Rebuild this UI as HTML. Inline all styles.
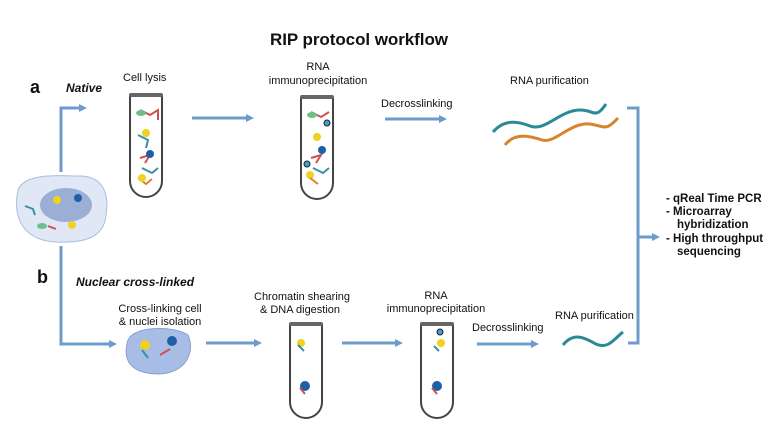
<!DOCTYPE html>
<html><head><meta charset="utf-8"><style>
html,body{margin:0;padding:0;background:#fff;}
svg{display:block;font-family:"Liberation Sans",Arial,sans-serif;}
</style></head><body>
<svg width="783" height="425" viewBox="0 0 783 425" xmlns="http://www.w3.org/2000/svg">
<defs>
<marker id="ah" markerWidth="8" markerHeight="8" refX="5" refY="4" orient="auto" markerUnits="userSpaceOnUse"><path d="M0,0 L8,4 L0,8 Z" fill="#6d9bcb"/></marker>
<g id="tube"><path d="M0,0 L0,86 A16,16 0 0 0 32,86 L32,0" fill="#fff" stroke="#444" stroke-width="2"/><rect x="-1" y="-2" width="34" height="4" rx="2" fill="#666"/></g>
<g id="tube2"><path d="M0,0 L0,78 A16,16 0 0 0 32,78 L32,0" fill="#fff" stroke="#444" stroke-width="2"/><rect x="-1" y="-2" width="34" height="4" rx="2" fill="#666"/></g>
</defs>
<text x="270" y="45" font-size="17" font-weight="bold" textLength="178" fill="#111">RIP protocol workflow</text>
<text x="30" y="93" font-size="18" font-weight="bold" fill="#111">a</text>
<text x="66" y="92" font-size="12" font-weight="bold" font-style="italic" fill="#111">Native</text>
<text x="123" y="81" font-size="11" fill="#111">Cell lysis</text>
<text x="318" y="70" font-size="11" fill="#111" text-anchor="middle">RNA</text>
<text x="318" y="84" font-size="11" fill="#111" text-anchor="middle">immunoprecipitation</text>
<text x="381" y="107" font-size="11" fill="#111">Decrosslinking</text>
<text x="510" y="84" font-size="11" fill="#111">RNA purification</text>
<text x="37" y="283" font-size="18" font-weight="bold" fill="#111">b</text>
<text x="76" y="286" font-size="12" font-weight="bold" font-style="italic" fill="#111">Nuclear cross-linked</text>
<text x="160" y="312" font-size="11" fill="#111" text-anchor="middle">Cross-linking cell</text>
<text x="160" y="325" font-size="11" fill="#111" text-anchor="middle">&amp; nuclei isolation</text>
<text x="302" y="300" font-size="11" fill="#111" text-anchor="middle">Chromatin shearing</text>
<text x="300" y="313" font-size="11" fill="#111" text-anchor="middle">&amp; DNA digestion</text>
<text x="436" y="299" font-size="11" fill="#111" text-anchor="middle">RNA</text>
<text x="436" y="312" font-size="11" fill="#111" text-anchor="middle">immunoprecipitation</text>
<text x="472" y="331" font-size="11" fill="#111">Decrosslinking</text>
<text x="555" y="319" font-size="11" fill="#111">RNA purification</text>
<g font-size="11.5" font-weight="bold" fill="#111">
<text x="666" y="202">-  qReal Time PCR</text>
<text x="666" y="215">-  Microarray</text>
<text x="677" y="228">hybridization</text>
<text x="666" y="242">-  High throughput</text>
<text x="677" y="255">sequencing</text>
</g>
<g stroke="#6d9bcb" stroke-width="3" fill="none">
<path d="M61,172 L61,108 L84,108" marker-end="url(#ah)"/>
<path d="M61,246 L61,344 L114,344" marker-end="url(#ah)"/>
<path d="M192,118 L251,118" marker-end="url(#ah)"/>
<path d="M385,119 L444,119" marker-end="url(#ah)"/>
<path d="M206,343 L259,343" marker-end="url(#ah)"/>
<path d="M342,343 L400,343" marker-end="url(#ah)"/>
<path d="M477,344 L536,344" marker-end="url(#ah)"/>
<path d="M627,108 L638,108 L638,343 L628,343"/>
<path d="M638,237 L657,237" marker-end="url(#ah)"/>
</g>
<path d="M493,132 C505,118 520,122 530,126 C545,132 560,110 580,110 C595,110 595,120 606,104" stroke="#2a8a95" stroke-width="3" fill="none"/>
<path d="M505,145 C515,132 530,136 542,140 C555,144 570,122 590,124 C605,126 605,132 618,118" stroke="#d8842c" stroke-width="3" fill="none"/>
<path d="M563,345 C575,330 588,340 596,344 C608,350 615,338 623,332" stroke="#2a8a95" stroke-width="3" fill="none"/>
<path d="M18,190 C25,172 60,176 80,176 C100,176 110,190 106,215 C104,240 80,243 55,242 C25,240 12,220 18,190 Z" fill="#e0e8f6" stroke="#a8bde0" stroke-width="1"/>
<ellipse cx="66" cy="205" rx="26" ry="17" fill="#9aaed6"/>
<path d="M128,340 C135,325 175,326 188,335 C195,350 188,372 160,374 C130,374 122,360 128,340 Z" fill="#a8bde6" stroke="#8aa0d0"/>
<use href="#tube" x="130" y="95"/>
<use href="#tube" x="301" y="97"/>
<use href="#tube2" x="290" y="324"/>
<use href="#tube2" x="421" y="324"/>
<g stroke-width="2" fill="none">
<path d="M140,110 l10,5 l8,-5 l0,10" stroke="#d05050"/><ellipse cx="141" cy="113" rx="5" ry="3" fill="#6cbf8a" stroke="none"/>
<path d="M138,135 l10,5 l-2,8" stroke="#3a8fa8"/><circle cx="146" cy="133" r="4" fill="#f0d020" stroke="none"/>
<path d="M140,158 l10,-3 l-5,8" stroke="#d05050"/><circle cx="150" cy="154" r="4" fill="#1f5fa8" stroke="none"/>
<path d="M142,168 l10,5 l6,-5" stroke="#3a8fa8"/>
<path d="M138,178 l8,6 l6,-5" stroke="#e08030"/><circle cx="142" cy="178" r="4" fill="#f0d020" stroke="none"/>
<path d="M311,112 l10,5 l8,-5" stroke="#d05050"/><ellipse cx="312" cy="115" rx="5" ry="3" fill="#6cbf8a" stroke="none"/>
<circle cx="317" cy="137" r="4" fill="#f0d020" stroke="none"/><circle cx="327" cy="123" r="3" fill="#3aa0d8" stroke="#222" stroke-width="1"/>
<path d="M311,158 l10,-3 l-5,8" stroke="#d05050"/><circle cx="322" cy="150" r="4" fill="#1f5fa8" stroke="none"/>
<path d="M313,168 l10,5 l6,-5" stroke="#3a8fa8"/>
<circle cx="307" cy="164" r="3" fill="#3aa0d8" stroke="#222" stroke-width="1"/><circle cx="310" cy="175" r="4" fill="#f0d020" stroke="none"/><path d="M310,178 l8,6" stroke="#e08030"/>
<circle cx="301" cy="343" r="4" fill="#f0d020" stroke="none"/><path d="M298,345 l6,6" stroke="#3a8fa8"/>
<circle cx="305" cy="386" r="5" fill="#1f5fa8" stroke="none"/><path d="M300,388 l5,6" stroke="#d05050"/>
<circle cx="440" cy="332" r="3" fill="#3aa0d8" stroke="#222" stroke-width="1"/><circle cx="441" cy="343" r="4" fill="#f0d020" stroke="none"/><path d="M434,346 l5,5" stroke="#3a8fa8"/>
<circle cx="437" cy="386" r="5" fill="#1f5fa8" stroke="none"/><path d="M432,388 l5,6" stroke="#d05050"/>
<circle cx="145" cy="345" r="5" fill="#f0d020" stroke="none"/><path d="M142,350 l6,8" stroke="#3a8fa8"/>
<circle cx="172" cy="341" r="5" fill="#1f5fa8" stroke="none"/><path d="M160,355 l10,-6" stroke="#d05050"/>
<circle cx="57" cy="200" r="4" fill="#f0d020" stroke="none"/><circle cx="78" cy="198" r="4" fill="#1f5fa8" stroke="none"/>
<ellipse cx="42" cy="226" rx="5" ry="3" fill="#6cbf8a" stroke="none"/><circle cx="72" cy="225" r="4" fill="#f0d020" stroke="none"/>
<path d="M25,206 l8,3 l2,6" stroke="#3a8fa8"/><path d="M48,226 l8,3" stroke="#d05050"/>
</g>
</svg>
</body></html>
